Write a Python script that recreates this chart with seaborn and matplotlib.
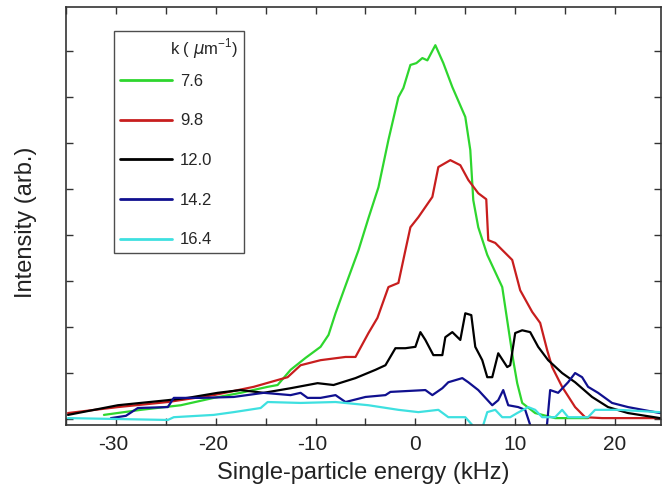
import numpy as np
import pandas as pd
import seaborn as sns
import matplotlib.pyplot as plt
from matplotlib.ticker import MultipleLocator, NullFormatter
from matplotlib.transforms import ScaledTranslation

# k values (um^-1) and line colours
k_labels = ["7.6", "9.8", "12.0", "14.2", "16.4"]
colors = ["#2ed62e", "#c81e1e", "#000000", "#10108f", "#3ee0e0"]

x_76 = [-31.2, -27.5, -23.5, -20.2, -17.5, -14.8, -13.8, -12.5, -11.0, -9.5, -8.7, -8.0, -7.0,
        -5.7, -4.7, -3.7, -2.7, -1.7, -1.2, -0.5, 0.1, 0.7, 1.2, 2.0, 2.8, 3.7, 5.0, 5.5, 5.8,
        6.3, 7.2, 8.7, 9.3, 9.8, 10.2, 10.7, 12.0, 14.0, 17.3]
y_76 = [0.09, 0.20, 0.30, 0.46, 0.57, 0.70, 0.74, 1.07, 1.33, 1.57, 1.83, 2.30, 2.90,
        3.67, 4.37, 5.04, 6.07, 7.00, 7.20, 7.70, 7.74, 7.85, 7.80, 8.13, 7.74, 7.22, 6.57, 5.85, 4.76,
        4.17, 3.57, 2.87, 2.00, 1.28, 0.78, 0.35, 0.13, 0.02, 0.02]

x_98 = [-34.8, -29.8, -24.8, -20.2, -16.2, -12.8, -11.5, -9.5, -7.0, -6.0, -4.7, -3.8, -2.7,
        -1.7, -1.0, -0.5, 0.3, 1.7, 2.3, 3.5, 4.5, 5.3, 6.3, 7.1, 7.3, 8.0, 8.5, 9.7, 10.5,
        11.7, 12.5, 13.2, 13.7, 14.7, 16.0, 17.0, 18.7, 24.5]
y_98 = [0.13, 0.26, 0.37, 0.52, 0.70, 0.91, 1.17, 1.28, 1.35, 1.35, 1.87, 2.20, 2.87,
        2.96, 3.67, 4.17, 4.39, 4.83, 5.48, 5.63, 5.52, 5.20, 4.91, 4.78, 3.89, 3.83, 3.72, 3.46, 2.80,
        2.33, 2.09, 1.50, 1.13, 0.70, 0.26, 0.04, 0.02, 0.02]

x_120 = [-34.8, -29.8, -24.8, -22.8, -19.8, -17.5, -15.2, -12.5, -9.8, -8.2, -6.0, -4.0, -3.0,
         -2.0, -1.0, 0.0, 0.5, 1.0, 1.8, 2.7, 3.0, 3.7, 4.5, 5.0, 5.6, 6.0, 6.7, 7.2, 7.7,
         8.3, 9.2, 9.5, 10.0, 10.7, 11.5, 12.3, 13.3, 14.7, 16.0, 17.7, 19.3, 21.3, 24.5]
y_120 = [0.09, 0.30, 0.41, 0.46, 0.57, 0.63, 0.57, 0.67, 0.78, 0.74, 0.89, 1.07, 1.17,
         1.54, 1.54, 1.57, 1.89, 1.72, 1.39, 1.39, 1.78, 1.89, 1.72, 2.30, 2.26, 1.57, 1.28, 0.91, 0.91,
         1.43, 1.13, 1.17, 1.87, 1.93, 1.89, 1.57, 1.28, 1.00, 0.80, 0.48, 0.26, 0.13, 0.02]

x_142 = [-30.5, -29.0, -27.8, -24.8, -24.2, -21.5, -18.2, -15.2, -12.5, -11.5, -10.8, -9.5, -8.0,
         -7.0, -5.0, -3.0, -2.5, 1.0, 1.7, 2.7, 3.3, 4.7, 5.3, 6.3, 7.7, 8.3, 8.8, 9.3, 10.3,
         11.0, 11.5, 11.8, 13.0, 13.2, 13.5, 14.3, 15.3, 16.0, 16.7, 17.3, 18.3, 19.7, 21.3, 24.5]
y_142 = [0.02, 0.07, 0.24, 0.26, 0.46, 0.46, 0.48, 0.57, 0.52, 0.57, 0.46, 0.46, 0.52,
         0.37, 0.48, 0.52, 0.59, 0.63, 0.52, 0.67, 0.80, 0.89, 0.80, 0.63, 0.30, 0.41, 0.63, 0.30, 0.26,
         0.20, -0.13, -0.35, -0.35, -0.09, 0.63, 0.57, 0.80, 1.00, 0.91, 0.70, 0.57, 0.35, 0.26, 0.13]

x_164 = [-34.8, -24.8, -24.2, -20.2, -18.2, -15.5, -14.8, -11.5, -8.0, -4.7, -1.7, 0.3, 2.3,
         3.3, 5.0, 5.7, 6.1, 6.7, 7.2, 8.0, 8.7, 9.5, 10.2, 11.3, 12.0, 12.7, 14.0, 14.7, 15.3,
         17.3, 18.0, 20.3, 24.5]
y_164 = [0.02, -0.02, 0.04, 0.09, 0.15, 0.24, 0.37, 0.35, 0.37, 0.30, 0.20, 0.15, 0.20,
         0.04, 0.04, -0.13, -0.25, -0.20, 0.15, 0.20, 0.04, 0.04, 0.13, 0.26, 0.20, 0.04, 0.04, 0.20, 0.04,
         0.04, 0.20, 0.20, 0.15]

curves = [(x_76, y_76), (x_98, y_98), (x_120, y_120), (x_142, y_142), (x_164, y_164)]
df = pd.concat(
    [pd.DataFrame({"energy": xs, "intensity": ys, "k": lab}) for lab, (xs, ys) in zip(k_labels, curves)],
    ignore_index=True,
)

sns.set_style("ticks")
plt.rcParams["font.family"] = ["Liberation Sans", "DejaVu Sans"]
plt.rcParams["mathtext.fontset"] = "dejavusans"
plt.rcParams["axes.unicode_minus"] = False

fig = plt.figure(figsize=(6.7, 4.91), dpi=100)
ax = fig.add_axes([0.0985, 0.1344, 0.888, 0.8513])

sns.lineplot(data=df, x="energy", y="intensity", hue="k", hue_order=k_labels,
             palette=colors, estimator=None, sort=False, linewidth=1.6, ax=ax)

ax.set_xlim(-35, 24.6)
ax.set_ylim(-0.13, 8.96)
ax.xaxis.set_major_locator(MultipleLocator(10))
ax.xaxis.set_minor_locator(MultipleLocator(5))
ax.yaxis.set_major_locator(MultipleLocator(1))
ax.yaxis.set_major_formatter(NullFormatter())
ax.tick_params(which="both", direction="in", top=True, right=True, length=5,
               width=1, color="#333333", labelsize=15, pad=7, labelcolor="#222222")
for sp in ax.spines.values():
    sp.set_color("#333333")
    sp.set_linewidth(1.2)

ax.set_xlabel("Single-particle energy (kHz)", fontsize=17, labelpad=6, color="#222222")
ax.set_ylabel("Intensity (arb.)", fontsize=17, color="#222222")
ax.yaxis.set_label_coords(-0.049, 0.486)

# legend box spans a fixed region like the original
leg = ax.legend(title=r"k ( $\mu$m$^{\mathregular{-1}}$)", loc="upper left",
                bbox_to_anchor=(0.081, 0.416, 0.218, 0.527), mode="expand",
                frameon=True, fancybox=False,
                fontsize=12, title_fontsize=12, labelspacing=1.48, handlelength=3.1,
                handletextpad=0.5, borderpad=0.35, borderaxespad=0, alignment="right")
leg._legend_box.sep = 9
leg.get_frame().set_edgecolor("#222222")
leg.get_frame().set_linewidth(1.0)
for line in leg.get_lines():
    line.set_linewidth(2.0)

# negative labels: keep the digits centred on the tick, minus sign hanging left
fig.canvas.draw()
for lab in ax.xaxis.get_majorticklabels():
    if lab.get_text().startswith("-"):
        lab.set_transform(lab.get_transform() + ScaledTranslation(-3 / 100, 0, fig.dpi_scale_trans))

fig.savefig("out.png", dpi=100)
